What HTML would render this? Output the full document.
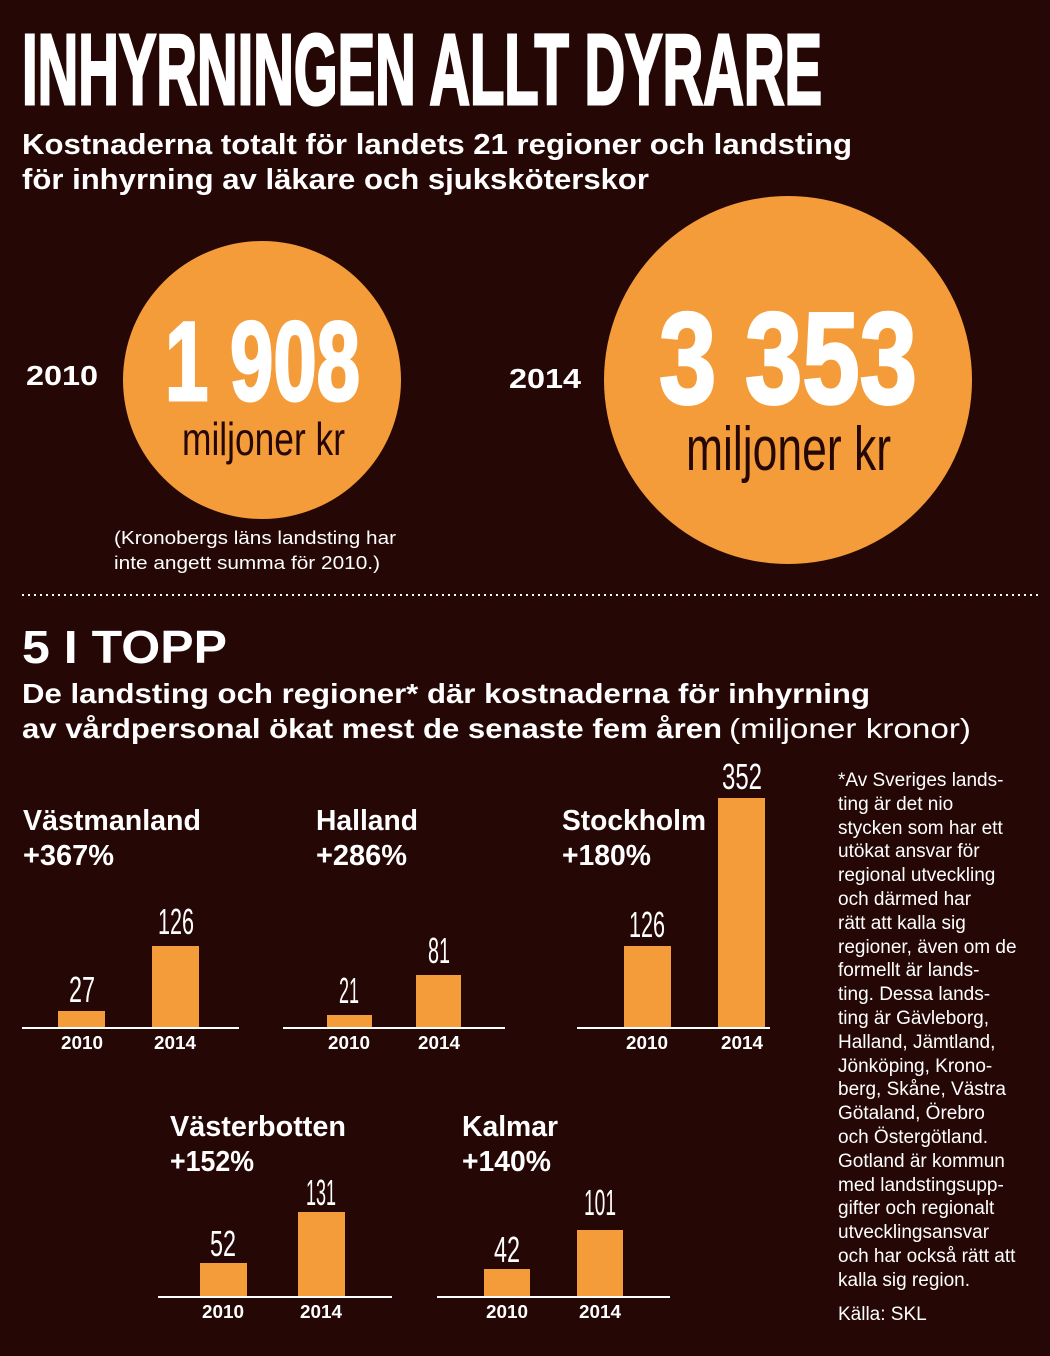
<!DOCTYPE html>
<html><head><meta charset="utf-8"><style>
html,body{margin:0;padding:0;background:#250805}
svg{display:block}
text{font-family:"Liberation Sans","DejaVu Sans",sans-serif}
</style></head><body>
<svg width="1050" height="1356" viewBox="0 0 1050 1356" xmlns="http://www.w3.org/2000/svg">
<rect width="1050" height="1356" fill="#250805"/>
<g fill="#fff" font-weight="bold">
<text x="22" y="104" font-size="100" stroke="#fff" stroke-width="3" textLength="800" lengthAdjust="spacingAndGlyphs">INHYRNINGEN ALLT DYRARE</text>
<text x="22" y="154" font-size="29" textLength="830" lengthAdjust="spacingAndGlyphs">Kostnaderna totalt för landets 21 regioner och landsting</text>
<text x="22" y="189" font-size="29" textLength="627" lengthAdjust="spacingAndGlyphs">för inhyrning av läkare och sjuksköterskor</text>
<text x="26" y="385" font-size="28" textLength="72" lengthAdjust="spacingAndGlyphs">2010</text>
<text x="509" y="388" font-size="28" textLength="72" lengthAdjust="spacingAndGlyphs">2014</text>
</g>
<circle cx="262" cy="380" r="139" fill="#f59c3a"/>
<circle cx="788" cy="380" r="184" fill="#f59c3a"/>
<text x="165" y="400" font-size="112" font-weight="bold" fill="#fff" stroke="#fff" stroke-width="3" textLength="195" lengthAdjust="spacingAndGlyphs">1 908</text>
<text x="182" y="455" font-size="46" fill="#250805" textLength="163" lengthAdjust="spacingAndGlyphs">miljoner kr</text>
<text x="659" y="403" font-size="130" font-weight="bold" fill="#fff" stroke="#fff" stroke-width="3" textLength="258" lengthAdjust="spacingAndGlyphs">3 353</text>
<text x="686" y="470" font-size="62" fill="#250805" textLength="205" lengthAdjust="spacingAndGlyphs">miljoner kr</text>
<g fill="#fff" font-size="18">
<text x="114" y="544" textLength="282" lengthAdjust="spacingAndGlyphs">(Kronobergs läns landsting har</text>
<text x="114" y="569" textLength="266" lengthAdjust="spacingAndGlyphs">inte angett summa för 2010.)</text>
</g>
<line x1="22" y1="595" x2="1040" y2="595" stroke="#fff" stroke-width="2" stroke-dasharray="2 4"/>
<g fill="#fff" font-weight="bold">
<text x="22" y="663" font-size="46" textLength="205" lengthAdjust="spacingAndGlyphs">5 I TOPP</text>
<text x="22" y="703" font-size="28" textLength="848" lengthAdjust="spacingAndGlyphs">De landsting och regioner* där kostnaderna för inhyrning</text>
<text x="22" y="738" font-size="28" textLength="700" lengthAdjust="spacingAndGlyphs">av vårdpersonal ökat mest de senaste fem åren</text>
</g>
<text x="729" y="738" font-size="28" fill="#fff" textLength="242" lengthAdjust="spacingAndGlyphs">(miljoner kronor)</text>

<g fill="#fff" font-weight="bold" font-size="29">
<text x="23" y="830" textLength="178" lengthAdjust="spacingAndGlyphs">Västmanland</text>
<text x="23" y="865" textLength="91" lengthAdjust="spacingAndGlyphs">+367%</text>
<text x="316" y="830" textLength="102" lengthAdjust="spacingAndGlyphs">Halland</text>
<text x="316" y="865" textLength="91" lengthAdjust="spacingAndGlyphs">+286%</text>
<text x="562" y="830" textLength="144" lengthAdjust="spacingAndGlyphs">Stockholm</text>
<text x="562" y="865" textLength="89" lengthAdjust="spacingAndGlyphs">+180%</text>
<text x="170" y="1136" textLength="176" lengthAdjust="spacingAndGlyphs">Västerbotten</text>
<text x="170" y="1171" textLength="84" lengthAdjust="spacingAndGlyphs">+152%</text>
<text x="462" y="1136" textLength="96" lengthAdjust="spacingAndGlyphs">Kalmar</text>
<text x="462" y="1171" textLength="89" lengthAdjust="spacingAndGlyphs">+140%</text>
</g>

<g fill="#f59c3a">
<rect x="58" y="1011" width="47" height="16"/><rect x="152" y="946" width="47" height="81"/>
<rect x="327" y="1015" width="45" height="12"/><rect x="416" y="975" width="45" height="52"/>
<rect x="624" y="946" width="47" height="81"/><rect x="718" y="798" width="47" height="229"/>
<rect x="200" y="1263" width="47" height="33"/><rect x="298" y="1212" width="47" height="84"/>
<rect x="484" y="1269" width="46" height="27"/><rect x="577" y="1230" width="46" height="66"/>
</g>
<g stroke="#fff" stroke-width="2">
<line x1="22" y1="1028" x2="239" y2="1028"/>
<line x1="283" y1="1028" x2="505" y2="1028"/>
<line x1="577" y1="1028" x2="770" y2="1028"/>
<line x1="158" y1="1297" x2="392" y2="1297"/>
<line x1="437" y1="1297" x2="670" y2="1297"/>
</g>
<g fill="#fff" font-size="36" text-anchor="middle">
<text x="82" y="1002" textLength="26" lengthAdjust="spacingAndGlyphs">27</text>
<text x="176" y="934" textLength="36" lengthAdjust="spacingAndGlyphs">126</text>
<text x="349" y="1003" textLength="20" lengthAdjust="spacingAndGlyphs">21</text>
<text x="439" y="963" textLength="22" lengthAdjust="spacingAndGlyphs">81</text>
<text x="647" y="937" textLength="36" lengthAdjust="spacingAndGlyphs">126</text>
<text x="742" y="789" textLength="40" lengthAdjust="spacingAndGlyphs">352</text>
<text x="223" y="1256" textLength="26" lengthAdjust="spacingAndGlyphs">52</text>
<text x="321" y="1205" textLength="30" lengthAdjust="spacingAndGlyphs">131</text>
<text x="507" y="1262" textLength="26" lengthAdjust="spacingAndGlyphs">42</text>
<text x="600" y="1215" textLength="32" lengthAdjust="spacingAndGlyphs">101</text>
</g>
<g fill="#fff" font-size="18" font-weight="bold" text-anchor="middle">
<text x="82" y="1049" textLength="42" lengthAdjust="spacingAndGlyphs">2010</text>
<text x="175" y="1049" textLength="42" lengthAdjust="spacingAndGlyphs">2014</text>
<text x="349" y="1049" textLength="42" lengthAdjust="spacingAndGlyphs">2010</text>
<text x="439" y="1049" textLength="42" lengthAdjust="spacingAndGlyphs">2014</text>
<text x="647" y="1049" textLength="42" lengthAdjust="spacingAndGlyphs">2010</text>
<text x="742" y="1049" textLength="42" lengthAdjust="spacingAndGlyphs">2014</text>
<text x="223" y="1318" textLength="42" lengthAdjust="spacingAndGlyphs">2010</text>
<text x="321" y="1318" textLength="42" lengthAdjust="spacingAndGlyphs">2014</text>
<text x="507" y="1318" textLength="42" lengthAdjust="spacingAndGlyphs">2010</text>
<text x="600" y="1318" textLength="42" lengthAdjust="spacingAndGlyphs">2014</text>
</g>
<g fill="#fff" font-size="19">
<text x="838" y="786">*Av Sveriges lands-</text>
<text x="838" y="810">ting är det nio</text>
<text x="838" y="834">stycken som har ett</text>
<text x="838" y="857">utökat ansvar för</text>
<text x="838" y="881">regional utveckling</text>
<text x="838" y="905">och därmed har</text>
<text x="838" y="929">rätt att kalla sig</text>
<text x="838" y="953">regioner, även om de</text>
<text x="838" y="976">formellt är lands-</text>
<text x="838" y="1000">ting. Dessa lands-</text>
<text x="838" y="1024">ting är Gävleborg,</text>
<text x="838" y="1048">Halland, Jämtland,</text>
<text x="838" y="1072">Jönköping, Krono-</text>
<text x="838" y="1095">berg, Skåne, Västra</text>
<text x="838" y="1119">Götaland, Örebro</text>
<text x="838" y="1143">och Östergötland.</text>
<text x="838" y="1167">Gotland är kommun</text>
<text x="838" y="1191">med landstingsupp-</text>
<text x="838" y="1214">gifter och regionalt</text>
<text x="838" y="1238">utvecklingsansvar</text>
<text x="838" y="1262">och har också rätt att</text>
<text x="838" y="1286">kalla sig region.</text>
<text x="838" y="1320">Källa: SKL</text>
</g>
</svg>
</body></html>
